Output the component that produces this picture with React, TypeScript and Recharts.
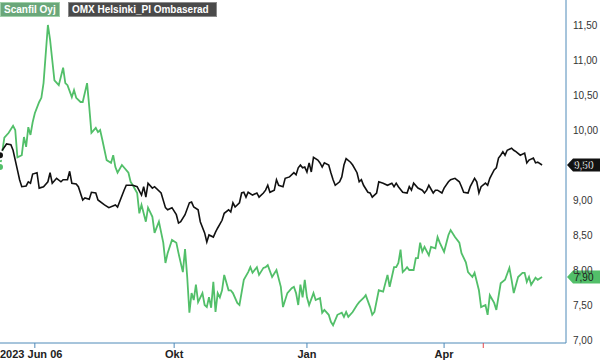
import React from 'react';
import { LineChart, Line, XAxis, YAxis, ReferenceLine } from 'recharts';

// trading days since 2023-06-06
const scanfilDays = [0,2,4,6,7,8,10,11,12,13,14,15,16,18,19,20,22,23,24,25,27,29,30,31,33,34,35,37,38,40,41,42,44,45,46,47,49,51,52,53,54,56,59,60,61,63,64,65,67,68,70,71,73,75,76,77,79,81,82,84,85,86,87,88,89,90,91,93,94,95,96,97,98,99,100,101,102,103,105,106,107,109,110,112,114,115,116,118,119,121,122,123,125,127,129,130,132,134,135,136,137,138,139,140,141,142,144,145,147,148,149,151,152,153,155,157,158,159,160,162,164,165,167,168,170,171,172,174,176,178,179,181,182,183,184,185,186,187,188,190,191,192,193,194,195,197,198,200,201,202,204,206,207,209,211,212,214,215,217,218,220,221,223,224,225,227,228,230,232,234,235,236,238,240,241,242,243,244,246,247,249];
const scanfilClose = [9.47,9.89,9.96,10.06,10.0,9.61,9.64,9.9,9.76,10.04,9.93,10.11,10.24,10.4,10.46,10.67,11.5,11.29,11.0,10.71,10.64,10.89,10.67,10.64,10.47,10.57,10.46,10.4,10.4,10.67,10.33,9.96,10.03,9.97,10.0,9.86,9.57,9.53,9.64,9.47,9.39,9.5,9.39,9.26,9.21,9.1,8.81,8.93,8.69,8.89,8.76,8.53,8.69,8.39,8.1,8.24,8.43,8.39,8.24,7.97,8.3,7.9,7.39,7.67,7.57,7.79,7.54,7.67,7.5,7.47,7.61,7.46,7.83,7.4,7.67,7.61,7.71,7.93,7.71,7.71,7.67,7.53,7.5,7.86,7.97,8.04,7.96,8.04,7.93,8.03,8.04,8.07,7.9,8.0,7.76,7.47,7.67,7.74,7.76,7.67,7.5,7.79,7.61,7.86,7.61,7.5,7.67,7.57,7.6,7.39,7.43,7.36,7.26,7.21,7.36,7.39,7.33,7.4,7.33,7.4,7.5,7.54,7.6,7.64,7.47,7.36,7.4,7.71,7.69,7.93,7.76,8.04,8.04,8.1,8.29,7.97,8.0,8.04,8.0,8.0,8.17,8.17,8.39,8.26,8.33,8.21,8.33,8.31,8.47,8.39,8.26,8.5,8.57,8.47,8.39,8.24,8.11,7.97,7.9,7.96,7.71,7.47,7.5,7.36,7.64,7.53,7.43,7.81,7.86,8.03,7.86,7.67,7.9,7.96,7.96,7.83,7.9,7.79,7.89,7.86,7.9];

const omxDays = [0,1,3,5,6,8,9,10,12,13,14,15,17,18,20,22,23,24,26,28,29,31,32,33,35,36,38,39,41,42,44,45,48,50,53,54,57,58,61,63,65,66,67,68,70,71,74,76,77,79,81,82,83,85,87,88,89,91,92,94,95,96,98,99,100,102,103,105,106,107,108,110,111,112,113,114,116,118,119,121,122,123,124,126,127,128,130,131,133,135,136,137,138,139,140,141,142,143,144,146,147,148,149,151,152,153,154,156,157,158,159,161,162,164,165,166,167,169,170,171,173,174,176,178,180,181,182,183,185,187,188,189,190,192,194,195,196,197,199,200,201,203,204,206,207,209,211,212,213,215,216,218,219,220,221,223,224,225,227,228,229,230,231,232,233,235,236,237,239,241,242,243,245,246,247,249];
const omxClose = [9.64,9.71,9.8,9.79,9.71,9.43,9.29,9.19,9.2,9.26,9.24,9.37,9.39,9.17,9.19,9.26,9.39,9.24,9.31,9.26,9.29,9.29,9.41,9.24,9.23,9.19,9.0,9.03,9.01,9.11,9.1,9.0,8.93,8.89,8.93,8.9,9.14,9.21,9.21,9.19,9.07,9.19,9.04,9.24,9.17,9.19,9.1,8.89,8.86,8.89,8.79,8.67,8.69,8.79,8.96,8.97,8.9,8.86,8.69,8.53,8.4,8.5,8.47,8.54,8.6,8.71,8.81,8.86,8.83,8.96,8.9,8.96,9.1,9.11,9.04,9.11,9.07,9.1,9.04,9.1,9.14,9.21,9.11,9.14,9.29,9.21,9.19,9.31,9.33,9.39,9.36,9.46,9.5,9.46,9.47,9.4,9.53,9.4,9.61,9.57,9.53,9.47,9.53,9.5,9.39,9.29,9.21,9.26,9.33,9.5,9.59,9.54,9.5,9.39,9.26,9.29,9.21,9.11,9.1,9.04,9.1,9.26,9.24,9.21,9.24,9.19,9.24,9.19,9.11,9.1,9.19,9.14,9.24,9.17,9.14,9.1,9.14,9.21,9.1,9.14,9.14,9.1,9.17,9.26,9.29,9.31,9.26,9.19,9.11,9.1,9.19,9.31,9.26,9.1,9.19,9.24,9.21,9.31,9.43,9.46,9.6,9.64,9.69,9.64,9.71,9.74,9.71,9.69,9.64,9.67,9.53,9.57,9.6,9.53,9.54,9.5];

const yTicks = [7, 7.5, 8, 8.5, 9, 9.5, 10, 10.5, 11, 11.5];
const xTicks = [16, 80, 141, 204, 222];
const xTickLabels: Record<number, string> = { 16: '2023 Jun 06', 80: 'Okt', 141: 'Jan', 204: 'Apr', 222: '' };
const markerDay = 222;

const scanfilLast = 7.9;
const omxLast = 9.5;

const GREEN = '#52bf69';
const AXIS = '#4f8ab8';
const FONT = '"Liberation Sans", Arial, sans-serif';

const scanfilData = scanfilDays.map((d, i) => ({ day: d, close: scanfilClose[i] }));
const omxData = omxDays.map((d, i) => ({ day: d, close: omxClose[i] }));

const fmt = (v: number) => v.toFixed(2).replace('.', ',');

function DateTick(props: any) {
  const { x, y, payload } = props;
  const isMarker = payload.value === markerDay;
  const first = payload.value === xTicks[0];
  return (
    <g>
      <line x1={x} x2={x} y1={y} y2={y + 5} stroke={isMarker ? '#e5484d' : AXIS} strokeWidth={1} />
      {!isMarker && (
        <text
          x={first ? 0 : x}
          y={y + 15}
          textAnchor={first ? 'start' : 'middle'}
          fontFamily={FONT}
          fontWeight="bold"
          fontSize={11}
          fill="#222"
        >
          {xTickLabels[payload.value]}
        </text>
      )}
    </g>
  );
}

function priceTag(value: number, bg: string, fg: string) {
  return (props: any) => {
    const vb = props.viewBox;
    const x = vb.x + vb.width + 1;
    const y = vb.y;
    const h = 6.5;
    return (
      <g>
        <polygon
          points={`${x},${y} ${x + 6},${y - h} ${x + 34},${y - h} ${x + 34},${y + h} ${x + 6},${y + h}`}
          fill={bg}
        />
        <text x={x + 7} y={y + 4} fontFamily={FONT} fontSize={10} fill={fg}>
          {fmt(value)}
        </text>
      </g>
    );
  };
}

const tag = (bg: string, border: string, left: number, width: number, text: string) => (
  <div
    style={{
      position: 'absolute',
      left,
      top: 2,
      width,
      height: 15,
      boxSizing: 'border-box',
      background: bg,
      border: `1px solid ${border}`,
      color: '#fff',
      fontFamily: FONT,
      fontWeight: 'bold',
      fontSize: 10,
      lineHeight: '13px',
      paddingLeft: 3,
      whiteSpace: 'nowrap',
    }}
  >
    {text}
  </div>
);

export default function App() {
  return (
    <div style={{ position: 'absolute', left: 0, top: 0, width: 600, height: 361, background: '#fff' }}>
      <LineChart width={600} height={361} margin={{ top: 0, right: 0, bottom: 0, left: 0 }}>
        <XAxis
          dataKey="day"
          type="number"
          domain={[0, 260]}
          ticks={xTicks}
          tick={<DateTick />}
          tickLine={false}
          tickSize={0}
          tickMargin={0}
          height={18}
          stroke={AXIS}
          allowDuplicatedCategory={false}
        />
        <YAxis
          orientation="right"
          domain={[6.957, 11.857]}
          ticks={yTicks}
          tickFormatter={fmt}
          tickLine={false}
          tickSize={3}
          tickMargin={4}
          width={34}
          stroke={AXIS}
          tick={{ fill: '#333', fontSize: 10, fontFamily: FONT }}
          allowDataOverflow
        />
        <Line
          data={scanfilData}
          dataKey="close"
          type="linear"
          stroke={GREEN}
          strokeWidth={1.8}
          dot={false}
          isAnimationActive={false}
        />
        <Line
          data={omxData}
          dataKey="close"
          type="linear"
          stroke="#111"
          strokeWidth={1.6}
          dot={false}
          isAnimationActive={false}
        />
        <ReferenceLine y={omxLast} stroke="none" ifOverflow="visible" label={priceTag(omxLast, '#111', '#fff')} />
        <ReferenceLine y={scanfilLast} stroke="none" ifOverflow="visible" label={priceTag(scanfilLast, GREEN, '#1b1b1b')} />
      </LineChart>
      {tag('#6aa77a', '#9fd0a9', 0, 60, 'Scanfil Oyj')}
      {tag('#4a4a4a', '#8a8a8a', 68, 149, 'OMX Helsinki_PI Ombaserad')}
    </div>
  );
}
